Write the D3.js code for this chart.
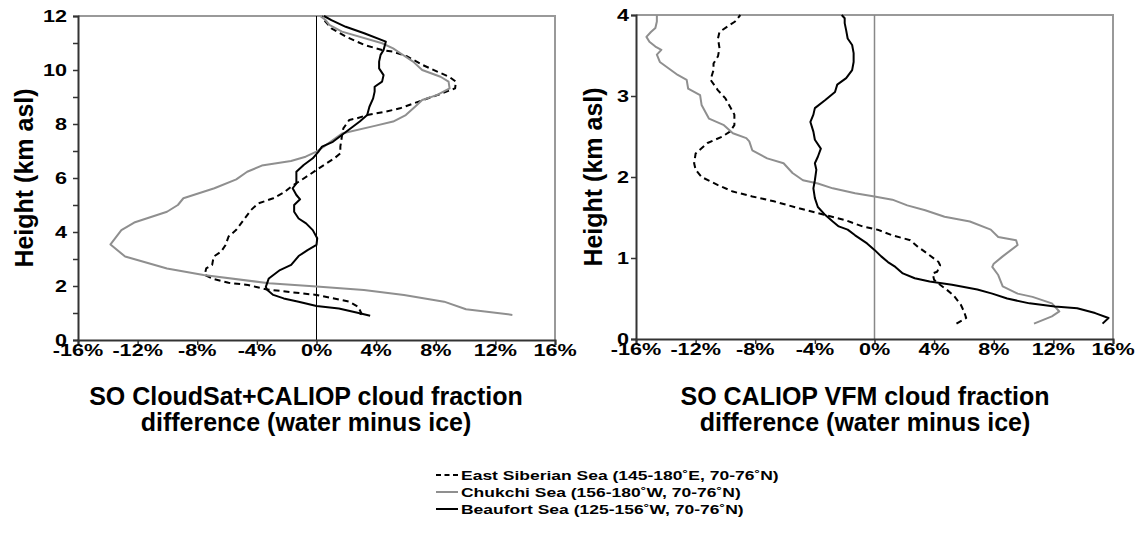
<!DOCTYPE html>
<html>
<head>
<meta charset="utf-8">
<script src="https://cdn.jsdelivr.net/npm/d3@7"></script>
<style>
  html, body { margin: 0; padding: 0; background: #fff; }
  svg { display: block; }
  text { font-family: "Liberation Sans", Arial, Helvetica, sans-serif; font-weight: bold; fill: #000; }
</style>
</head>
<body>
<svg id="chart" width="1138" height="539"></svg>
<script>
// ---- Data: cloud fraction difference (%) vs height (km asl) ----
// Each point is [difference %, height km]

// Left panel: CloudSat+CALIOP
const csEastSiberian = [
  [2.94,0.93],[3.0,1.0],[2.8,1.23],[2.2,1.42],[0,1.67],[-1.7,1.77],[-3.4,1.88],[-4.6,2.04],
  [-5.9,2.12],[-6.85,2.25],[-7.5,2.41],[-7.4,2.65],[-7.0,2.78],[-6.9,3.09],[-6.4,3.27],
  [-6.1,3.52],[-5.9,3.83],[-5.4,4.07],[-4.9,4.44],[-4.4,4.81],[-3.9,5.06],[-2.9,5.25],
  [-2.2,5.46],[-1.7,5.68],[-1.2,5.86],[-0.5,6.11],[0,6.30],[0.5,6.48],[1.2,6.73],[1.6,6.91],
  [1.6,7.16],[1.7,7.53],[1.8,7.84],[2.2,8.15],[2.7,8.21],[3.4,8.33],[4.65,8.46],[5.6,8.58],
  [6.85,8.83],[8.1,9.07],[9.3,9.32],[9.35,9.57],[8.9,9.75],[8.1,9.94],[7.1,10.19],[6.1,10.5],
  [5.1,10.68],[4.4,10.74],[3.2,10.93],[2.0,11.23],[1.0,11.54],[0.6,11.79],[0.37,12.0]
];
const csChukchi = [
  [13.14,0.93],[10.03,1.14],[8.56,1.42],[5.87,1.67],[3.18,1.85],[0,1.98],[-3.18,2.10],
  [-7.58,2.41],[-10.03,2.65],[-12.84,3.09],[-13.82,3.54],[-13.09,4.07],[-12.23,4.35],
  [-10.03,4.75],[-9.3,5.0],[-8.93,5.25],[-6.85,5.62],[-5.38,5.95],[-4.65,6.23],[-3.67,6.46],
  [-1.71,6.63],[-0.73,6.79],[0,6.98],[0.49,7.16],[1.71,7.65],[3.91,7.93],[5.14,8.09],
  [5.99,8.33],[6.61,8.64],[7.09,8.89],[8.07,9.07],[8.93,9.32],[8.86,9.57],[8.32,9.75],
  [7.09,10.0],[6.48,10.31],[5.63,10.62],[5.14,10.8],[4.4,10.99],[1.71,11.42],[0.86,11.67],
  [0.61,11.85],[0.24,12.0]
];
const csBeaufort = [
  [3.6,0.9],[2.9,0.99],[1.5,1.17],[0,1.26],[-1.2,1.42],[-2.2,1.54],[-2.9,1.67],[-3.3,1.85],
  [-3.4,1.97],[-3.2,2.28],[-2.45,2.59],[-1.7,2.78],[-1.2,3.11],[-0.6,3.33],[0,3.52],
  [0.05,3.77],[-0.25,4.07],[-0.7,4.32],[-1.2,4.5],[-1.5,4.75],[-1.5,5.0],[-1.1,5.21],
  [-1.35,5.37],[-1.6,5.62],[-1.35,5.8],[-1.35,5.99],[-1.35,6.23],[-0.86,6.48],[-0.25,6.73],
  [0.12,6.97],[0.37,7.16],[1.1,7.34],[1.7,7.59],[2.3,7.84],[2.9,8.09],[3.4,8.33],[3.55,8.64],
  [3.8,8.95],[3.9,9.2],[3.9,9.38],[4.4,9.57],[4.5,9.81],[4.2,10.06],[4.2,10.31],[4.3,10.56],
  [4.5,10.74],[4.65,11.05],[3.2,11.36],[1.96,11.6],[1.0,11.85],[0.5,12.0]
];

// Right panel: CALIOP VFM
const vfmEastSiberian = [
  [5.5,0.19],[6.15,0.26],[6.0,0.34],[5.8,0.42],[5.3,0.54],[4.9,0.60],[4.4,0.67],[4.0,0.73],
  [3.9,0.81],[4.2,0.83],[4.4,0.91],[4.3,0.95],[3.5,1.06],[2.9,1.14],[2.4,1.22],[1.2,1.28],
  [0.2,1.35],[-0.8,1.39],[-2.0,1.47],[-3.3,1.53],[-5.0,1.61],[-6.75,1.70],[-8.2,1.76],
  [-9.5,1.82],[-10.5,1.90],[-11.6,2.0],[-12.0,2.09],[-12.1,2.17],[-12.0,2.29],[-11.2,2.42],
  [-10.2,2.50],[-9.7,2.56],[-9.4,2.64],[-9.4,2.77],[-9.7,2.87],[-10.0,2.97],[-10.5,3.07],
  [-11.0,3.20],[-10.8,3.32],[-10.8,3.40],[-10.5,3.49],[-10.4,3.59],[-10.5,3.71],[-10.4,3.79],
  [-9.85,3.86],[-9.35,3.92],[-9.0,4.0]
];
const vfmChukchi = [
  [10.7,0.19],[11.9,0.28],[12.4,0.34],[11.9,0.44],[10.6,0.52],[9.6,0.56],[8.6,0.65],[8.3,0.79],
  [7.9,0.89],[8.0,0.93],[8.6,1.02],[9.6,1.16],[9.5,1.22],[8.3,1.26],[7.8,1.35],[6.4,1.45],
  [4.7,1.51],[3.4,1.59],[2.2,1.65],[1.2,1.72],[0,1.76],[-1.3,1.80],[-2.8,1.86],[-3.8,1.92],
  [-4.8,1.96],[-5.5,2.05],[-6.1,2.17],[-7.2,2.23],[-8.2,2.33],[-8.4,2.44],[-8.6,2.48],
  [-9.5,2.54],[-10.1,2.64],[-11.1,2.72],[-11.6,2.89],[-11.7,3.01],[-12.5,3.09],[-12.6,3.20],
  [-13.2,3.26],[-13.8,3.34],[-14.4,3.42],[-14.6,3.51],[-14.3,3.57],[-14.7,3.61],[-15.1,3.67],
  [-15.3,3.73],[-15.0,3.79],[-14.7,3.84],[-14.6,3.92],[-14.6,4.0]
];
const vfmBeaufort = [
  [15.3,0.19],[15.7,0.26],[14.8,0.32],[13.6,0.38],[12.1,0.40],[10.4,0.44],[8.9,0.50],[7.9,0.56],
  [6.9,0.61],[5.2,0.67],[3.7,0.71],[2.7,0.75],[1.9,0.81],[1.4,0.89],[0.9,0.95],[0.45,1.02],
  [0,1.10],[-0.5,1.18],[-1.3,1.28],[-1.8,1.35],[-2.4,1.39],[-2.8,1.45],[-3.3,1.53],[-3.8,1.63],
  [-4.0,1.74],[-4.1,1.86],[-4.0,1.96],[-3.9,2.09],[-4.0,2.17],[-3.8,2.25],[-3.6,2.35],
  [-4.0,2.46],[-4.1,2.56],[-4.3,2.68],[-4.1,2.77],[-4.0,2.85],[-3.3,2.95],[-2.65,3.05],
  [-2.5,3.14],[-1.9,3.22],[-1.5,3.32],[-1.4,3.42],[-1.4,3.53],[-1.5,3.63],[-1.8,3.71],
  [-1.9,3.81],[-2.0,3.90],[-2.0,3.96],[-2.2,4.0]
];

// Axis ticks
const xTickValues = [-16, -12, -8, -4, 0, 4, 8, 12, 16];
const leftYLabels = [0, 2, 4, 6, 8, 10, 12];
const leftYTicks = [0, 1, 2, 3, 4, 5, 6, 7, 8, 9, 10, 11, 12];
const rightYLabels = [0, 1, 2, 3, 4];

// Text
const yTitle = "Height (km asl)";
const leftXTitle = ["SO CloudSat+CALIOP cloud fraction", "difference (water minus ice)"];
const rightXTitle = ["SO CALIOP VFM cloud fraction", "difference (water minus ice)"];
const seriesNames = [
  "East Siberian Sea (145-180˚E, 70-76˚N)",
  "Chukchi Sea (156-180˚W, 70-76˚N)",
  "Beaufort Sea (125-156˚W, 70-76˚N)"
];

// Series styles (East Siberian dashed black, Chukchi grey, Beaufort solid black)
const seriesStyle = [
  { color: "#000", dash: "6,4" },
  { color: "#8f8f8f", dash: null },
  { color: "#000", dash: null }
];

const svg = d3.select("#chart");
const tickLabelScale = 1.35;

function panel(cfg) {
  const x = d3.scaleLinear().domain([-16, 16]).range([cfg.x0, cfg.x1]);
  const y = d3.scaleLinear().domain([0, cfg.yMax]).range([cfg.y1, cfg.y0]);
  const g = svg.append("g");

  g.append("defs").append("clipPath").attr("id", cfg.id)
    .append("rect").attr("x", cfg.x0).attr("y", cfg.y0 - 1)
    .attr("width", cfg.x1 - cfg.x0).attr("height", cfg.y1 - cfg.y0 + 1);

  // frame: grey top & right borders
  g.append("path")
    .attr("d", `M${cfg.x0},${cfg.y0}H${cfg.x1}V${cfg.y1}`)
    .attr("fill", "none").attr("stroke", "#999").attr("stroke-width", 2);

  // zero line
  g.append("line")
    .attr("x1", x(0)).attr("x2", x(0)).attr("y1", cfg.y0).attr("y2", cfg.y1)
    .attr("stroke", cfg.zeroColor).attr("stroke-width", cfg.zeroWidth);

  // series
  const line = d3.line().x(d => x(d[0])).y(d => y(d[1]));
  const lines = g.append("g").attr("clip-path", `url(#${cfg.id})`);
  cfg.series.forEach((s, i) => {
    lines.append("path")
      .datum(s)
      .attr("d", line)
      .attr("fill", "none")
      .attr("stroke", seriesStyle[i].color)
      .attr("stroke-width", 2)
      .attr("stroke-linejoin", "round")
      .attr("stroke-dasharray", seriesStyle[i].dash);
  });

  // left axis
  const yAxis = d3.axisLeft(y).tickValues(cfg.yTicks).tickSize(5).tickFormat("");
  const ya = g.append("g").attr("transform", `translate(${cfg.x0},0)`).call(yAxis);
  ya.selectAll("path, line").attr("stroke", "#333").attr("stroke-width", 1.5);
  ya.select(".domain").attr("stroke-width", 2);

  // bottom axis
  const xAxis = d3.axisBottom(x).tickValues(xTickValues).tickSize(5).tickFormat("");
  const xa = g.append("g").attr("transform", `translate(0,${cfg.y1})`).call(xAxis);
  xa.selectAll("path, line").attr("stroke", "#333").attr("stroke-width", 1.5);
  xa.select(".domain").attr("stroke-width", 2);

  // y tick labels
  cfg.yLabels.forEach(v => {
    g.append("text")
      .attr("transform", `translate(${cfg.x0 - cfg.yLabelGap},${y(v) + 5.8}) scale(${tickLabelScale},1)`)
      .attr("text-anchor", "end")
      .attr("font-size", 16)
      .text(v);
  });

  // x tick labels
  xTickValues.forEach(v => {
    g.append("text")
      .attr("transform", `translate(${x(v)},${cfg.y1 + 15.5}) scale(${tickLabelScale},1)`)
      .attr("text-anchor", "middle")
      .attr("font-size", 16)
      .text(v + "%");
  });

  // y title
  g.append("text")
    .attr("transform", `translate(${cfg.yTitleX},${(cfg.y0 + cfg.y1) / 2}) rotate(-90)`)
    .attr("text-anchor", "middle")
    .attr("font-size", 25)
    .text(yTitle);

  // x title
  cfg.xTitle.forEach((t, i) => {
    g.append("text")
      .attr("x", cfg.xTitleX).attr("y", 405 + i * 26)
      .attr("text-anchor", "middle")
      .attr("font-size", 25)
      .text(t);
  });
}

panel({
  id: "clipLeft", x0: 78, x1: 555, y0: 16, y1: 340, yMax: 12,
  yTicks: leftYTicks, yLabels: leftYLabels, yLabelGap: 11,
  zeroColor: "#000", zeroWidth: 1,
  series: [csEastSiberian, csChukchi, csBeaufort],
  yTitleX: 33, xTitle: leftXTitle, xTitleX: 306
});

panel({
  id: "clipRight", x0: 636, x1: 1113, y0: 15, y1: 339, yMax: 4,
  yTicks: rightYLabels, yLabels: rightYLabels, yLabelGap: 7,
  zeroColor: "#888", zeroWidth: 1.5,
  series: [vfmEastSiberian, vfmChukchi, vfmBeaufort],
  yTitleX: 602, xTitle: rightXTitle, xTitleX: 865
});

// legend
const legend = svg.append("g");
seriesNames.forEach((name, i) => {
  const by = 479.5 + i * 17;
  legend.append("line")
    .attr("x1", 436).attr("x2", 458).attr("y1", by - 4.5).attr("y2", by - 4.5)
    .attr("stroke", seriesStyle[i].color).attr("stroke-width", 2)
    .attr("stroke-dasharray", i === 0 ? "5,3.5" : null);
  legend.append("text")
    .attr("transform", `translate(461,${by}) scale(1.4,1)`)
    .attr("font-size", 12.5)
    .text(name);
});
</script>
</body>
</html>
